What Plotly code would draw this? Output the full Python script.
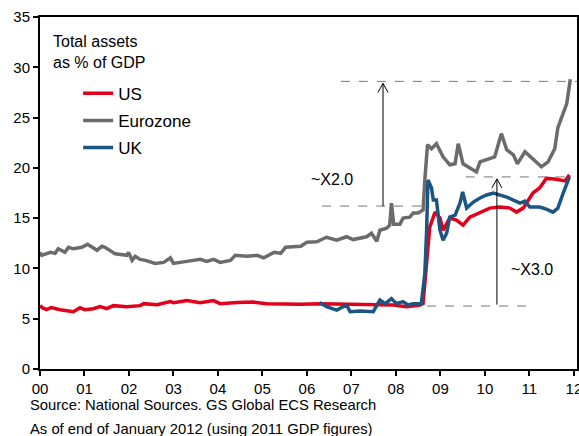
import plotly.graph_objects as go

# --- Data (decimal years since 2000, value = total assets as % of GDP) ---
ez_years = [0.0, 0.04, 0.23, 0.34, 0.41, 0.56, 0.64, 0.75, 0.94, 1.07, 1.28, 1.39, 1.46, 1.69,
            1.95, 1.99, 2.07, 2.14, 2.25, 2.37, 2.59, 2.78, 2.93, 3.0, 3.3, 3.45, 3.6, 3.75,
            3.9, 4.05, 4.28, 4.39, 4.65, 4.88, 5.03, 5.26, 5.41, 5.52, 5.86, 6.0, 6.22, 6.44,
            6.67, 6.89, 7.04, 7.34, 7.45, 7.57, 7.64, 7.79, 7.86, 7.9, 7.95, 8.09, 8.16, 8.31,
            8.39, 8.5, 8.61, 8.65, 8.71, 8.8, 8.91, 9.06, 9.21, 9.33, 9.4, 9.51, 9.7, 9.81,
            9.89, 10.11, 10.22, 10.37, 10.49, 10.64, 10.73, 10.9, 11.08, 11.27, 11.42, 11.57,
            11.64, 11.76, 11.84, 11.92]
ez_vals = [11.6, 11.3, 11.6, 11.5, 11.95, 11.6, 12.1, 11.95, 12.1, 12.4, 11.8, 12.2, 12.1, 11.45,
           11.3, 11.6, 10.8, 11.2, 10.9, 10.8, 10.5, 10.6, 11.05, 10.5, 10.7, 10.8, 10.9, 10.7,
           10.9, 10.6, 10.8, 11.3, 11.2, 11.3, 11.05, 11.6, 11.5, 12.1, 12.2, 12.6, 12.65, 13.1,
           12.8, 13.15, 12.87, 13.15, 13.5, 12.7, 13.8, 14.0, 14.3, 16.5, 14.4, 14.4, 15.0, 15.1,
           15.5, 15.5, 15.8, 18.8, 22.3, 21.9, 22.4, 21.1, 20.3, 20.4, 22.4, 20.4, 19.95, 19.6,
           20.6, 20.9, 21.1, 23.4, 21.8, 21.3, 20.4, 21.6, 20.9, 20.1, 20.6, 21.9,
           24.0, 25.4, 26.4, 28.8]

us_years = [0.0, 0.05, 0.15, 0.25, 0.45, 0.75, 0.9, 1.0, 1.2, 1.35, 1.5, 1.65, 1.95, 2.25, 2.33,
            2.63, 2.93, 3.0, 3.3, 3.6, 3.9, 4.05, 4.43, 4.8, 5.1, 5.55, 5.85, 6.29, 6.89, 7.42,
            7.94, 8.24, 8.54, 8.61, 8.69, 8.76, 8.88, 8.99, 9.06, 9.21, 9.36, 9.51, 9.66, 9.89,
            10.11, 10.34, 10.56, 10.71, 10.86, 11.08, 11.23, 11.38, 11.57, 11.8, 11.9]
us_vals = [6.3, 6.1, 5.9, 6.1, 5.9, 5.7, 6.1, 5.9, 6.0, 6.2, 6.0, 6.3, 6.2, 6.3, 6.5,
           6.4, 6.7, 6.6, 6.8, 6.6, 6.8, 6.5, 6.6, 6.65, 6.5, 6.45, 6.45, 6.5, 6.45, 6.36,
           6.36, 6.2, 6.36, 6.5, 10.5, 14.1, 15.6, 15.0, 13.8, 15.0, 14.8, 14.3, 15.1, 15.6,
           16.0, 16.1, 16.0, 15.6, 16.0, 17.5, 18.0, 18.95, 18.9, 18.7, 19.3]

uk_years = [6.29, 6.44, 6.67, 6.89, 6.97, 7.19, 7.49, 7.64, 7.76, 7.9, 8.01, 8.16, 8.27, 8.39,
            8.57, 8.65, 8.69, 8.72, 8.8, 8.84, 8.91, 8.99, 9.06, 9.14, 9.21, 9.33, 9.44, 9.5,
            9.59, 9.74, 9.89, 10.04, 10.19, 10.34, 10.49, 10.64, 10.79, 10.9, 11.01, 11.23,
            11.38, 11.53, 11.64, 11.76, 11.9]
uk_vals = [6.6, 6.2, 5.86, 6.36, 5.7, 5.76, 5.7, 6.86, 6.5, 7.0, 6.5, 6.7, 6.36, 6.5,
           6.5, 9.5, 13.8, 18.8, 18.0, 16.8, 16.8, 13.8, 12.8, 13.5, 15.1, 15.3, 16.5, 17.6,
           16.0, 16.6, 17.0, 17.3, 17.5, 17.3, 17.1, 16.8, 16.5, 16.7, 16.1, 16.1,
           15.9, 15.6, 16.0, 17.5, 19.1]

tick_years = list(range(13))
tick_labels = ["%02d" % y for y in tick_years]

FONT = "Liberation Sans"
RED = "#e2001a"
GREY = "#6b6b6b"
BLUE = "#1c5482"

fig = go.Figure()

# Traces (legend order US, Eurozone, UK)
fig.add_trace(go.Scatter(x=us_years, y=us_vals, name="US", mode="lines", legendgroup="us",
                         line=dict(color=RED, width=3.5)))
fig.add_trace(go.Scatter(x=ez_years, y=ez_vals, name="Eurozone", mode="lines", legendgroup="ez",
                         line=dict(color=GREY, width=3.5)))
fig.add_trace(go.Scatter(x=uk_years, y=uk_vals, name="UK", mode="lines", legendgroup="uk",
                         line=dict(color=BLUE, width=3.5)))

# Dashed reference levels
dash = dict(color="#777777", width=1, dash="dash")
for x0, x1, y in [(6.76, 12.07, 28.6), (6.34, 8.61, 16.2), (9.57, 11.87, 19.1), (8.70, 10.94, 6.26)]:
    fig.add_shape(type="line", x0=x0, x1=x1, y0=y, y1=y, xref="x", yref="y", line=dash)

# Arrows: shaft + open arrowhead
for ax, y0, y1 in [(7.71, 16.2, 28.4), (10.27, 6.4, 18.9)]:
    fig.add_shape(type="line", x0=ax, x1=ax, y0=y0, y1=y1, xref="x", yref="y",
                  line=dict(color="black", width=1))
    fig.add_shape(type="path", xref="x", yref="y", xsizemode="pixel", ysizemode="pixel",
                  xanchor=ax, yanchor=y1, path="M-5,-9L0,0L5,-9",
                  line=dict(color="black", width=1))

fig.add_annotation(x=6.56, y=18.8, text="~X2.0", showarrow=False,
                   font=dict(family=FONT, size=16, color="black"))
fig.add_annotation(x=11.06, y=9.9, text="~X3.0", showarrow=False,
                   font=dict(family=FONT, size=16, color="black"))

# Chart label inside plot
fig.add_annotation(x=0.02, y=0.96, xref="paper", yref="paper", xanchor="left", yanchor="top",
                   align="left", text="Total assets<br>as % of GDP", showarrow=False,
                   font=dict(family=FONT, size=16, color="black"))

# Source lines under the chart
fig.add_annotation(x=-0.022, y=-0.103, xref="paper", yref="paper", xanchor="left", yanchor="middle",
                   text="Source: National Sources. GS Global ECS Research", showarrow=False,
                   font=dict(family=FONT, size=14.8, color="black"))
fig.add_annotation(x=-0.022, y=-0.17, xref="paper", yref="paper", xanchor="left", yanchor="middle",
                   text="As of end of January 2012 (using 2011 GDP figures)", showarrow=False,
                   font=dict(family=FONT, size=14.8, color="black"))

fig.update_xaxes(range=[0, 12.07], tickvals=tick_years, ticktext=tick_labels,
                 showgrid=False, zeroline=False, showline=True, linecolor="black", linewidth=2,
                 mirror=True, ticks="outside", ticklen=5, tickwidth=1.5, tickcolor="black",
                 ticklabeloverflow="allow",
                 tickfont=dict(family=FONT, size=15, color="black"))
fig.update_yaxes(range=[0, 35], dtick=5, showgrid=False, zeroline=False, showline=True,
                 linecolor="black", linewidth=2, mirror=True, ticks="outside", ticklen=5,
                 tickwidth=1.5, tickcolor="black",
                 tickfont=dict(family=FONT, size=15, color="black"))

fig.update_layout(
    width=579, height=436,
    margin=dict(l=40, r=2, t=17, b=67, autoexpand=False),
    plot_bgcolor="white", paper_bgcolor="white",
    showlegend=True,
    legend=dict(x=0.071, y=0.833, xanchor="left", yanchor="top", bgcolor="rgba(0,0,0,0)",
                itemwidth=30, tracegroupgap=2, traceorder="grouped",
                font=dict(family=FONT, size=17, color="black")),
)

# page body has a default margin; remove it so the figure sits at the window corner
fig.write_html("out.html", config={"displayModeBar": False},
               post_script="document.body.style.margin='0';")
